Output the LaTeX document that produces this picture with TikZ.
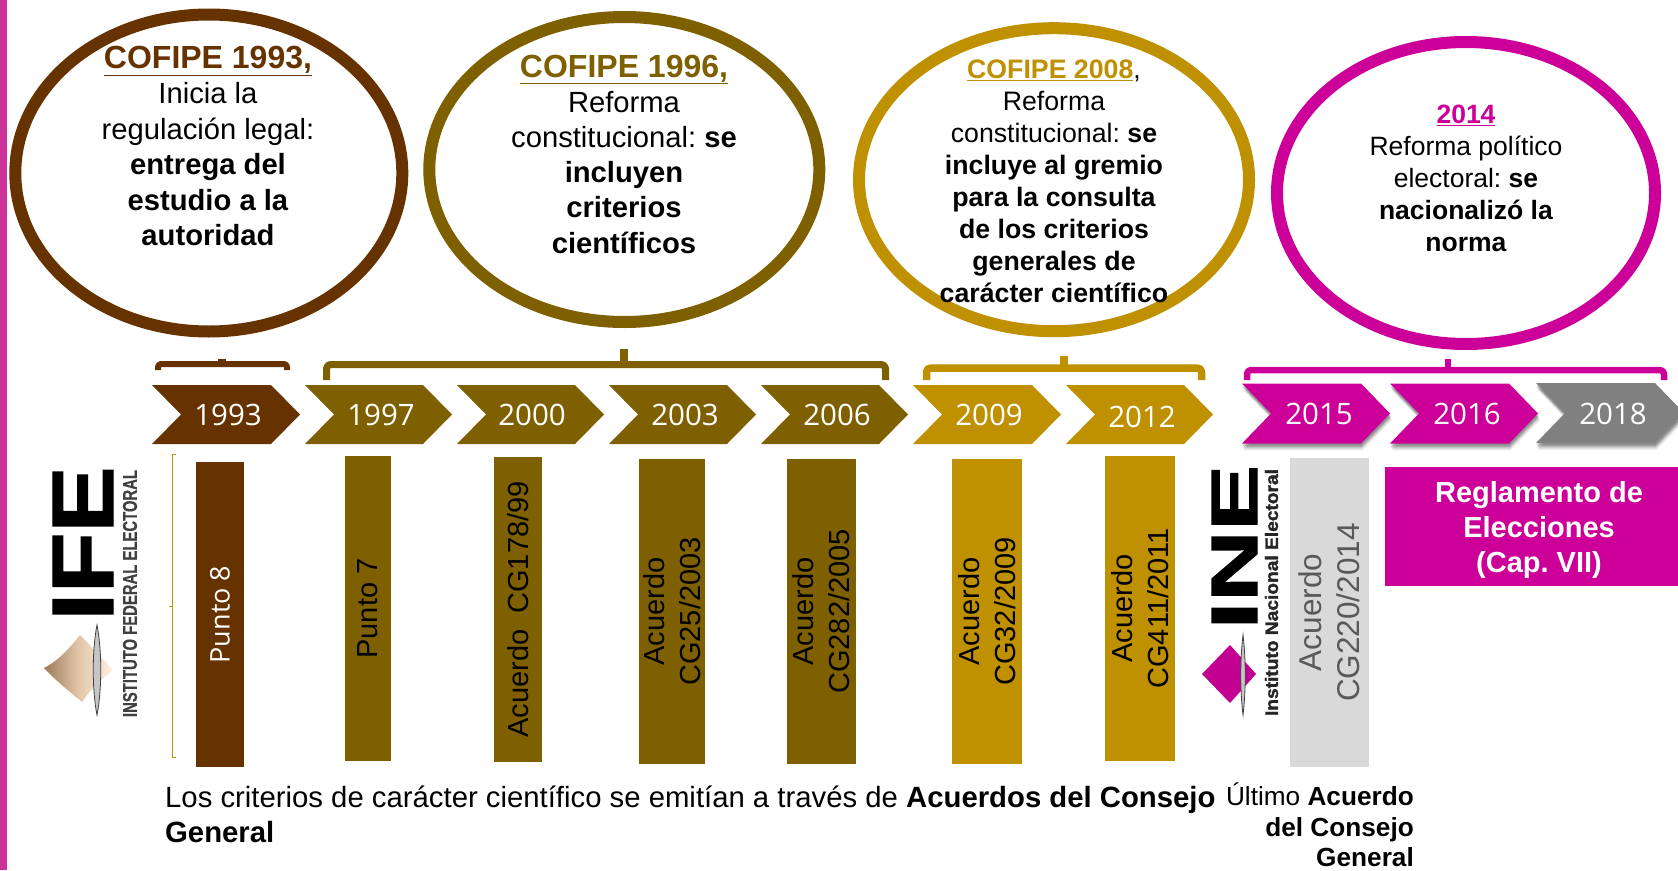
\documentclass[tikz,border=0pt]{standalone}
\usepackage{fontspec}
\setmainfont{Liberation Sans}
\newfontfamily\osans{Open Sans}
\newfontfamily\lheavy[BoldFeatures={FakeBold=1.6}]{Liberation Sans}
\newfontfamily\lmed[BoldFeatures={FakeBold=0.5}]{Liberation Sans}
\usetikzlibrary{shapes.geometric}
\definecolor{cbrown}{HTML}{663300}
\definecolor{colive}{HTML}{7F6000}
\definecolor{cgold}{HTML}{BF9000}
\definecolor{cmag}{HTML}{CC0099}
\definecolor{cbar}{HTML}{CC3399}
\definecolor{cgrey}{HTML}{808080}
\definecolor{clight}{HTML}{D9D9D9}
\newcommand{\fs}[2]{\fontsize{#1}{#2}\selectfont\lineskiplimit=-100pt\frenchspacing\relax}
\tikzset{
  ring/.style={ellipse,draw=#1,line width=12pt,fill=white,inner sep=0pt,outer sep=0pt},
  etext/.style={align=center,inner sep=0pt,text=black},
  chevtext/.style={inner sep=0pt,text=white,font=\osans\fontsize{29.5}{32}\selectfont},
  bar/.style={rotate=90,fill=#1,inner sep=0pt,outer sep=0pt,align=center,text=black,
     font=\fs{29}{36}},
  brack/.style={line width=#1,line join=round,rounded corners=4pt},
  logoword/.style={rotate=90,inner sep=0pt,font=\bfseries},
  lens/.style={fill=gray!45,draw=black!75,line width=0.8pt}
}
% name, xleft, xtip, top, bottom, colour, label x, label y, year
\newcommand{\chev}[9]{%
  \path[fill=#6] (#2,#4) -- ({#3-29},#4) -- (#3,{(#4+#5)/2}) -- ({#3-29},#5) -- (#2,#5) -- ({#2+29},{(#4+#5)/2}) -- cycle;
  \node[chevtext] (#1) at (#7,#8) {#9};
}
\newcommand{\chevsh}[4]{%
  \foreach \d/\dx/\o in {7/1.5/.05,6/1.5/.06,5/1/.08,4/1/.10,3/.5/.12,2/.5/.12}{%
  \path[fill=black,opacity=\o] ({#1+\dx},{#3+\d}) -- ({#2-29+\dx},{#3+\d}) -- ({#2+\dx},{(#3+#4)/2+\d}) -- ({#2-29+\dx},{#4+\d}) -- ({#1+\dx},{#4+\d}) -- ({#1+29+\dx},{(#3+#4)/2+\d}) -- cycle;}
}
\begin{document}
\begin{tikzpicture}[x=1pt,y=-1pt]
\useasboundingbox (0,0) rectangle (1678,870);
\clip (0,0) rectangle (1678,870);
\fill[white] (0,0) rectangle (1678,870);
\fill[cbar] (0,0) rectangle (7,870);

% ellipses
\node[ring=cbrown,minimum width=387pt,minimum height=317pt] (e1) at (208.8,173) {};
\node[ring=colive,minimum width=390pt,minimum height=305pt] (e2) at (624.3,169.5) {};
\node[ring=cgold,minimum width=390pt,minimum height=303pt] (e3) at (1054,179.7) {};
\node[ring=cmag,minimum width=378pt,minimum height=302pt] (e4) at (1466,193) {};

\node[etext,font=\fs{29.2}{35.4}] (t1) at (208,146) {{\fontsize{32}{35.4}\selectfont\bfseries\color{cbrown}\underline{COFIPE 1993,}}\\Inicia la\\regulación legal:\\\textbf{entrega del}\\\textbf{estudio a la}\\\textbf{autoridad}};
\node[etext,font=\fs{29.2}{35.2}] (t2) at (624,154) {{\fontsize{32}{35.2}\selectfont\bfseries\color{colive}\underline{COFIPE 1996,}}\\Reforma\\constitucional: \textbf{se}\\\textbf{incluyen}\\\textbf{criterios}\\\textbf{científicos}};
\node[etext,font=\fs{26.7}{32}] (t3) at (1054,181) {{\bfseries\color{cgold}\underline{COFIPE 2008}},\\Reforma\\constitucional: \textbf{se}\\\textbf{incluye al gremio}\\\textbf{para la consulta}\\\textbf{de los criterios}\\\textbf{generales de}\\\textbf{carácter científico}};
\node[etext,font=\fs{26.5}{32}] (t4) at (1466,178) {{\bfseries\color{cmag}\underline{2014}}\\Reforma político\\electoral: \textbf{se}\\\textbf{nacionalizó la}\\\textbf{norma}};

% brackets
\draw[brack=6pt,draw=cbrown,rounded corners=3pt] (158,370) -- (158,364) -- (287,364) -- (287,370);
\fill[cbrown] (218,359) rectangle (226,364);

\draw[brack=7pt,draw=colive] (326.5,380) -- (326.5,364.5) -- (885.5,364.5) -- (885.5,380);
\fill[colive] (620,349) rectangle (628,365);

\draw[brack=7.5pt,draw=cgold] (926.5,380) -- (926.5,368) -- (1201.5,368) -- (1201.5,380);
\fill[cgold] (1060,356) rectangle (1068,368);

\draw[brack=6.5pt,draw=cmag] (1247,380) -- (1247,370) -- (1664,370) -- (1664,380);
\fill[cmag] (1445,359) rectangle (1451,370);

% thin bracket
\draw[cgold,line width=1pt] (176,454) -- (172,454) -- (172,757) -- (176,757) (172,606) -- (169,606);

% chevrons
\chev{y1993}{152}{300}{385}{444}{cbrown}{228}{415}{1993}
\chev{y1997}{305}{452}{385}{444}{colive}{381}{415}{1997}
\chev{y2000}{457}{604}{385}{444}{colive}{532}{415}{2000}
\chev{y2003}{609}{756}{385}{444}{colive}{685}{415}{2003}
\chev{y2006}{761}{908}{385}{444}{colive}{837}{415}{2006}
\chev{y2009}{913}{1061}{385}{444}{cgold}{989}{415}{2009}
\chev{y2012}{1066}{1213}{385}{444}{cgold}{1142}{417}{2012}
\chevsh{1242}{1390}{383.5}{443.5}
\chevsh{1390}{1538}{383.5}{443.5}
\chevsh{1536}{1684}{383}{443}
\chev{y2018}{1536}{1684}{383}{443}{cgrey}{1613}{413.5}{2018}
\chev{y2015}{1242}{1390}{383.5}{443.5}{cmag}{1319}{414}{2015}
\chev{y2016}{1390}{1538}{383.5}{443.5}{cmag}{1467}{414}{2016}

% bars
\node[bar=cbrown,minimum width=305pt,minimum height=48pt,text=white,font=\osans\fontsize{27}{32}\selectfont] (b1) at (220,614.5) {Punto 8};
\node[bar=colive,minimum width=305pt,minimum height=46pt] (b2) at (368,608.5) {Punto 7};
\node[bar=colive,minimum width=305pt,minimum height=48pt] (b3) at (518,609.5) {Acuerdo\ \ CG178/99};
\node[bar=colive,minimum width=305pt,minimum height=66pt] (b4) at (672,611.5) {Acuerdo\\CG25/2003};
\node[bar=colive,minimum width=305pt,minimum height=69pt] (b5) at (821.5,611.5) {Acuerdo\\CG282/2005};
\node[bar=cgold,minimum width=305pt,minimum height=70pt] (b6) at (987,611.5) {Acuerdo\\CG32/2009};
\node[bar=cgold,minimum width=305pt,minimum height=70pt] (b7) at (1140,608.5) {Acuerdo\\CG411/2011};
\node[bar=clight,minimum width=309pt,minimum height=79pt,text=black!65,font=\fs{31.5}{38}] (b8) at (1329.5,612.5) {Acuerdo\\CG220/2014};

\node[fill=cmag,inner sep=0pt,outer sep=0pt,minimum width=293pt,minimum height=119pt] (rg) at (1531.5,526.5) {};
\node[text=white,inner sep=0pt,align=center,font=\fs{29}{35}\bfseries] (rgt) at (1539,529.5) {Reglamento de\\Elecciones\\(Cap. VII)};

% IFE logo
\node[logoword] (ife) at (83,543.5) {\resizebox{154pt}{60pt}{\lheavy IFE}};
\node[logoword,text=black!75] (ifet) at (130,593.5) {\resizebox{247pt}{14pt}{\lmed INSTITUTO FEDERAL ELECTORAL}};
\path[left color=cbrown!65!white,right color=orange!12!white,middle color=brown!45!white] (44,668) .. controls (60,660) and (72,645) .. (80,635) .. controls (90,645) and (102,658) .. (113,670) .. controls (100,680) and (90,690) .. (82,702) .. controls (70,692) and (55,680) .. cycle;
\path[lens] (97,625) .. controls (92,650) and (92,690) .. (97,715) .. controls (102,690) and (102,650) .. cycle;

% INE logo
\node[logoword] (ine) at (1234.5,547) {\resizebox{164pt}{45pt}{\lheavy INE}};
\node[logoword,text=black!85] (inet) at (1271.5,592.5) {\resizebox{247pt}{13pt}{\lheavy Instituto Nacional Electoral}};
\path[fill=cmag!95!black] (1202,674) -- (1230,645) -- (1256,674) -- (1230,703) -- cycle;
\path[lens] (1243,635) .. controls (1240,660) and (1240,690) .. (1243,715) .. controls (1246,690) and (1246,660) .. cycle;

% bottom texts
\node[anchor=north west,inner sep=0pt,align=left,font=\fs{29.3}{35}] (bt) at (165,785.5) {Los criterios de carácter científico se emitían a través de \textbf{Acuerdos del Consejo}\\\textbf{General}};
\node[anchor=north east,inner sep=0pt,align=right,font=\fs{26.2}{30.5}] (ut) at (1414,783) {Último \textbf{Acuerdo}\\\textbf{del Consejo}\\\textbf{General}};
\end{tikzpicture}
\end{document}
